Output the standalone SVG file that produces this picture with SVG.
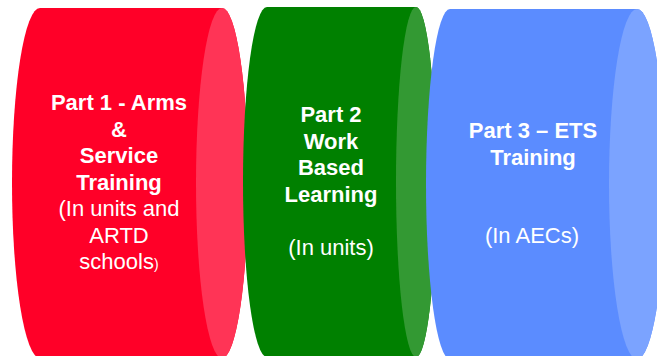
<svg xmlns="http://www.w3.org/2000/svg" width="657" height="356" viewBox="0 0 657 356">
<style>
text{font-family:"Liberation Sans",Arial,sans-serif;font-size:22px;fill:#fff;text-anchor:middle}
.b{font-weight:bold}
</style>
<rect width="657" height="356" fill="#fff"/>
<g id="part1">
<path d="M40,8 L222,8 A26,175 0 0 1 222,358 L40,358 A28,175 0 0 1 40,8 Z" fill="#FF0028"/>
<ellipse cx="222" cy="183" rx="26" ry="175" fill="#FF3456"/>
<text class="b" x="119" y="110">Part 1 - Arms</text>
<text class="b" x="119" y="136.5">&amp;</text>
<text class="b" x="119" y="163">Service</text>
<text class="b" x="119" y="189.5">Training</text>
<text x="119" y="216">(In units and</text>
<text x="119" y="242.5">ARTD</text>
<text x="119" y="269">schools<tspan font-size="14">)</tspan></text>
</g>
<g id="part2">
<path d="M267,7 L416,7 A20,175 0 0 1 416,357 L267,357 A24,175 0 0 1 267,7 Z" fill="#008000"/>
<ellipse cx="416" cy="182" rx="20" ry="175" fill="#339933"/>
<text class="b" x="331" y="122">Part 2</text>
<text class="b" x="331" y="148.5">Work</text>
<text class="b" x="331" y="175">Based</text>
<text class="b" x="331" y="201.5">Learning</text>
<text x="331" y="254.5">(In units)</text>
</g>
<g id="part3">
<path d="M450,9 L637,9 A28,175 0 0 1 637,359 L450,359 A24,175 0 0 1 450,9 Z" fill="#5B8CFF"/>
<ellipse cx="637" cy="184" rx="28" ry="175" fill="#7BA3FF"/>
<text class="b" x="533" y="138">Part 3 – ETS</text>
<text class="b" x="533" y="164.5">Training</text>
<text x="532" y="243">(In AECs)</text>
</g>
<g id="connectors"/>
</svg>
